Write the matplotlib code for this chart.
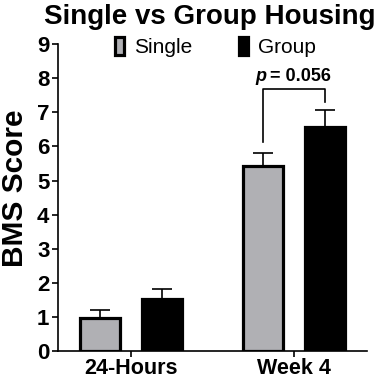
import numpy as np
import matplotlib
matplotlib.use("Agg")
import matplotlib.pyplot as plt
from matplotlib.patches import Patch

plt.rcParams["font.family"] = ["Liberation Sans", "DejaVu Sans"]

# data
groups = ["24-Hours", "Week 4"]
single_mean = [0.97, 5.42]
single_err = [0.23, 0.40]
group_mean = [1.52, 6.57]
group_err = [0.30, 0.50]
series_names = ["Single", "Group"]

fig = plt.figure(figsize=(3.83, 3.80), dpi=100)
ax = fig.add_axes([0.151, 0.076, 0.807, 0.808])

x = np.arange(len(groups))
w = 0.245
off = 0.19
xs = x - off
xg = x + off

ekw = dict(ecolor="black", elinewidth=1.2, capsize=7, capthick=1.2)
ax.bar(xs, single_mean, width=w, color="#b0b0b4", edgecolor="black", linewidth=2.3,
       yerr=[[0, 0], single_err], error_kw=ekw, zorder=3)
ax.bar(xg, group_mean, width=w, color="black", edgecolor="black", linewidth=2.3,
       yerr=[[0, 0], group_err], error_kw=ekw, zorder=3)

# significance bracket
top = 7.68
ax.plot([xs[1], xs[1], xg[1], xg[1]], [6.13, top, top, 7.3], color="black", lw=1.2)
ax.text(0.834, 7.92, "p", ha="right", va="baseline",
        fontsize=13, fontweight="bold", style="italic")
ax.text(0.853, 7.92, "= 0.056", ha="left", va="baseline",
        fontsize=13, fontweight="bold")

ax.set_ylim(0, 9)
ax.set_yticks(range(0, 10))
ax.set_xlim(-0.448, 1.448)
ax.set_xticks(x)
ax.set_xticklabels(groups, fontsize=15.5, fontweight="bold")
ax.tick_params(axis="y", labelsize=16, width=1.2, length=4, pad=2)
ax.tick_params(axis="x", width=1.2, length=4, pad=1)
for lab in ax.get_yticklabels():
    lab.set_fontweight("bold")
ax.spines["top"].set_visible(False)
ax.spines["right"].set_visible(False)
ax.spines["left"].set_linewidth(1.2)
ax.spines["bottom"].set_linewidth(1.2)
ax.set_ylabel("BMS Score", fontsize=21.5, fontweight="bold")
ax.yaxis.set_label_coords(-0.094, 0.531)

handles = [Patch(facecolor="#b0b0b4", edgecolor="black", linewidth=2.3),
           Patch(facecolor="black", edgecolor="black", linewidth=2.3)]
ax.legend(handles, series_names, loc="center", bbox_to_anchor=(0.51, 0.99), ncol=2,
          frameon=False, handlelength=0.45, handleheight=0.9,
          columnspacing=2.2, handletextpad=0.5, borderaxespad=0,
          prop={"size": 15, "weight": "normal"})

fig.suptitle("Single vs Group Housing", fontsize=20, fontweight="bold", x=0.548, y=0.99)

fig.savefig("out.png", dpi=100)
